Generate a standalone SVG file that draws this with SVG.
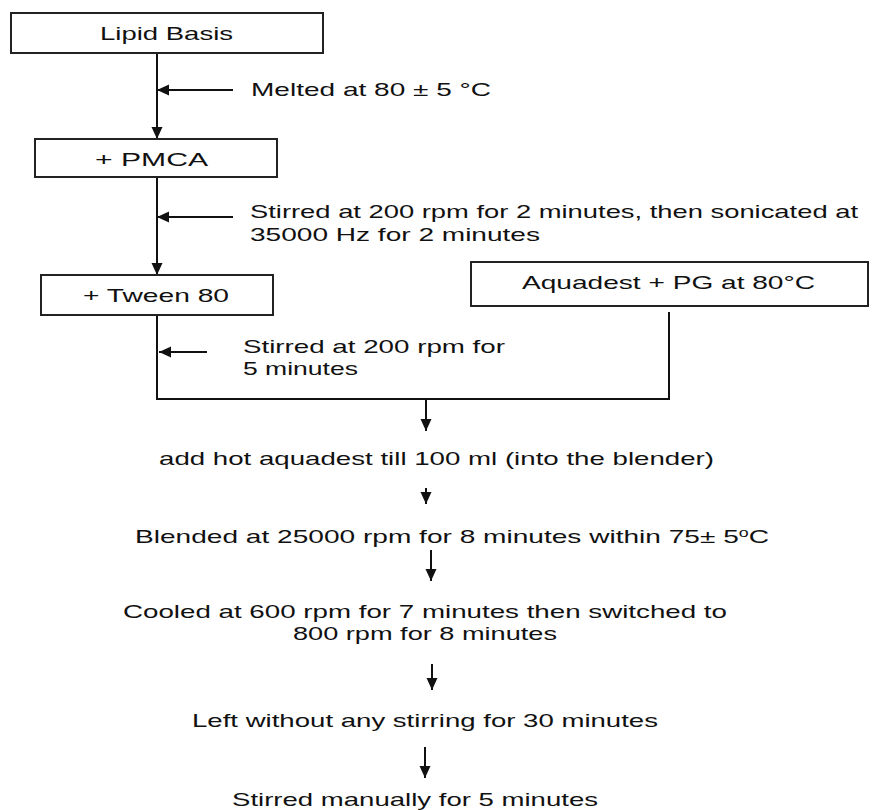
<svg xmlns="http://www.w3.org/2000/svg" width="872" height="810" viewBox="0 0 872 810">
<style>
  text { font-family: "Liberation Sans", Arial, sans-serif; font-size: 19px; fill: #111; }
  .box { fill: #fff; stroke: #222; stroke-width: 2; }
  .ln { fill: none; stroke: #111; stroke-width: 2; }
  .arr { fill: none; stroke: #111; stroke-width: 2; marker-end: url(#ah); }
</style>
<defs>
  <marker id="ah" markerUnits="userSpaceOnUse" markerWidth="12" markerHeight="12" refX="12" refY="6" orient="auto">
    <path d="M0,0.5 L12,6 L0,11.5 z" fill="#111"/>
  </marker>
</defs>
<rect width="872" height="810" fill="#fff"/>

<g id="connectors">
  <line class="arr" x1="157" y1="53" x2="157" y2="139"/>
  <line class="arr" x1="233" y1="90" x2="157" y2="90"/>
  <line class="arr" x1="157" y1="177" x2="157" y2="275"/>
  <line class="arr" x1="233" y1="217" x2="157" y2="217"/>
  <polyline class="ln" points="157,316 157,399 669,399 669,312"/>
  <line class="arr" x1="207" y1="352" x2="159" y2="352"/>
  <line class="arr" x1="426" y1="399" x2="426" y2="431"/>
  <line class="arr" x1="426" y1="488" x2="426" y2="504"/>
  <line class="arr" x1="431" y1="550" x2="431" y2="581"/>
  <line class="arr" x1="432" y1="664" x2="432" y2="690"/>
  <line class="arr" x1="425" y1="747" x2="425" y2="778"/>
</g>

<g id="lipid-basis">
  <rect class="box" x="11" y="13" width="312" height="40"/>
  <text x="100" y="40" textLength="133" lengthAdjust="spacingAndGlyphs">Lipid Basis</text>
</g>
<g id="pmca">
  <rect class="box" x="35" y="139" width="242" height="38"/>
  <text x="95" y="166" textLength="113" lengthAdjust="spacingAndGlyphs">+ PMCA</text>
</g>
<g id="tween80">
  <rect class="box" x="41" y="275" width="232" height="40"/>
  <text x="83" y="302" textLength="146" lengthAdjust="spacingAndGlyphs">+ Tween 80</text>
</g>
<g id="aquadest-pg">
  <rect class="box" x="471" y="262" width="397" height="44"/>
  <text x="522" y="289" textLength="293" lengthAdjust="spacingAndGlyphs">Aquadest + PG  at 80°C</text>
</g>

<g id="label-melted">
  <text x="251" y="96" textLength="240" lengthAdjust="spacingAndGlyphs">Melted at 80 ± 5 °C</text>
</g>
<g id="label-stirred-sonicated">
  <text x="250" y="218" textLength="608" lengthAdjust="spacingAndGlyphs">Stirred at 200 rpm for 2 minutes, then sonicated at</text>
  <text x="250" y="241" textLength="290" lengthAdjust="spacingAndGlyphs">35000 Hz  for 2 minutes</text>
</g>
<g id="label-stirred-5">
  <text x="243" y="353" textLength="262" lengthAdjust="spacingAndGlyphs">Stirred at 200 rpm for</text>
  <text x="243" y="375" textLength="115" lengthAdjust="spacingAndGlyphs">5 minutes</text>
</g>

<g id="step-add-aquadest">
  <text x="159" y="465" textLength="555" lengthAdjust="spacingAndGlyphs">add hot aquadest till 100 ml (into the blender)</text>
</g>
<g id="step-blended">
  <text x="135" y="543" textLength="634" lengthAdjust="spacingAndGlyphs">Blended at 25000 rpm for 8 minutes within 75± 5<tspan dy="-6" font-size="12">o</tspan><tspan dy="6">C</tspan></text>
</g>
<g id="step-cooled">
  <text x="123" y="618" textLength="604" lengthAdjust="spacingAndGlyphs">Cooled at 600 rpm for 7 minutes then switched to</text>
  <text x="293" y="640" textLength="264" lengthAdjust="spacingAndGlyphs">800 rpm for 8 minutes</text>
</g>
<g id="step-left">
  <text x="192" y="727" textLength="466" lengthAdjust="spacingAndGlyphs">Left without any stirring for 30 minutes</text>
</g>
<g id="step-stirred-manually">
  <text x="232" y="806" textLength="366" lengthAdjust="spacingAndGlyphs">Stirred manually  for 5 minutes</text>
</g>
</svg>
